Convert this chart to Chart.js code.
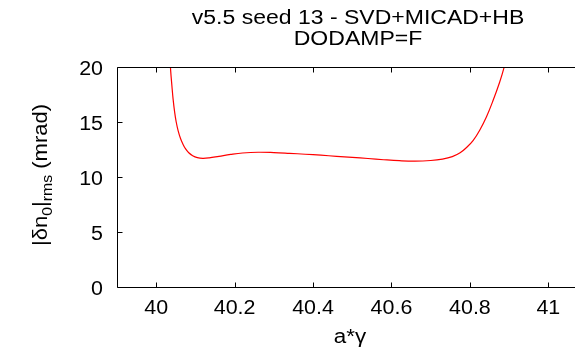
<!DOCTYPE html>
<html><head><meta charset="utf-8">
<script src="https://cdn.jsdelivr.net/npm/chart.js@4/dist/chart.umd.min.js"></script>
<style>html,body{margin:0;padding:0;background:#fff}#wrap{width:575px;height:351px;position:relative}</style>
</head><body><div id="wrap"><canvas id="c" width="575" height="351"></canvas></div>
<script>
const titleLines = ["v5.5 seed 13 - SVD+MICAD+HB", "DODAMP=F"];
const xAxisLabel = "a*\u03b3";
const yLabelParts = [["|\u03b4n", false], ["0", true], ["|", false], ["rms", true], [" (mrad)", false]];
const xTickValues = [40, 40.2, 40.4, 40.6, 40.8, 41];
const yTickValues = [0, 5, 10, 15, 20];
const aGamma = [40.030, 40.034, 40.037, 40.040, 40.043, 40.047, 40.051, 40.056, 40.062, 40.068, 40.075, 40.083, 40.093, 40.105, 40.119, 40.135, 40.160, 40.190, 40.220, 40.260, 40.300, 40.340, 40.380, 40.420, 40.460, 40.500, 40.540, 40.580, 40.620, 40.660, 40.700, 40.730, 40.755, 40.775, 40.792, 40.808, 40.825, 40.842, 40.859, 40.876, 40.887, 40.900];
const dn0rms = [25.0, 21.5, 19.6, 18.3, 17.1, 15.9, 15.0, 14.2, 13.5, 13.0, 12.55, 12.2, 11.93, 11.76, 11.7, 11.74, 11.88, 12.05, 12.18, 12.25, 12.22, 12.15, 12.07, 11.98, 11.88, 11.78, 11.68, 11.57, 11.48, 11.44, 11.5, 11.63, 11.85, 12.2, 12.7, 13.3, 14.25, 15.45, 16.95, 18.64, 19.95, 21.8];

const FONT = '"Liberation Sans", Arial, Helvetica, sans-serif';
function sText(ctx, txt, x, y, size, sx, align) {
  ctx.save();
  ctx.font = size + 'px ' + FONT;
  ctx.textAlign = align || 'center';
  ctx.textBaseline = 'alphabetic';
  ctx.translate(x, y);
  ctx.scale(sx, 1);
  ctx.fillText(txt, 0, 0);
  ctx.restore();
}

const framePlugin = {
  id: 'frame',
  afterDatasetsDraw(chart) {
    const ctx = chart.ctx;
    const a = chart.chartArea;
    const xs = chart.scales.x, ys = chart.scales.y;
    ctx.save();
    ctx.strokeStyle = '#000';
    ctx.lineWidth = 1;
    const L = Math.round(a.left) + 0.5, T = Math.round(a.top) + 0.5, B = Math.round(a.bottom) + 0.5, R = a.right + 10;
    ctx.beginPath();
    ctx.moveTo(R, T); ctx.lineTo(L, T); ctx.lineTo(L, B); ctx.lineTo(R, B);
    ctx.stroke();
    ctx.beginPath();
    xs.ticks.forEach(t => {
      const px = Math.round(xs.getPixelForValue(t.value)) + 0.5;
      ctx.moveTo(px, B); ctx.lineTo(px, B - 5);
      ctx.moveTo(px, T); ctx.lineTo(px, T + 5);
    });
    ys.ticks.forEach(t => {
      const py = Math.round(ys.getPixelForValue(t.value)) + 0.5;
      ctx.moveTo(L, py); ctx.lineTo(L + 5, py);
    });
    ctx.stroke();
    ctx.fillStyle = '#000';
    xs.ticks.forEach(t => {
      const px = xs.getPixelForValue(t.value);
      sText(ctx, String(t.value), px, a.bottom + 27, 19.5, 1.1, 'center');
    });
    ys.ticks.forEach(t => {
      const py = ys.getPixelForValue(t.value);
      sText(ctx, String(t.value), 103, py + 8, 19.5, 1.1, 'right');
    });
    sText(ctx, titleLines[0], 358, 24, 19.5, 1.18, 'center');
    sText(ctx, titleLines[1], 358, 45, 19.5, 1.18, 'center');
    sText(ctx, xAxisLabel, 350, 343, 19.5, 1.15, 'center');
    const big = 19.5, small = 14, sx = 1.13;
    let widths = yLabelParts.map(p => {
      ctx.font = (p[1] ? small : big) + 'px ' + FONT;
      return ctx.measureText(p[0]).width * sx;
    });
    const total = widths.reduce((s, w) => s + w, 0);
    ctx.translate(47, 175);
    ctx.rotate(-Math.PI / 2);
    let cx = -total / 2;
    yLabelParts.forEach((p, i) => {
      ctx.save();
      ctx.font = (p[1] ? small : big) + 'px ' + FONT;
      ctx.textAlign = 'left';
      ctx.translate(cx, p[1] ? 5 : 0);
      ctx.scale(sx, 1);
      ctx.fillText(p[0], 0, 0);
      ctx.restore();
      cx += widths[i];
    });
    ctx.restore();
  }
};

new Chart(document.getElementById('c'), {
  type: 'line',
  data: {
    datasets: [{
      data: aGamma.map((x, i) => ({ x: x, y: dn0rms[i] })),
      borderColor: '#ff0000',
      borderWidth: 1.2,
      pointRadius: 0,
      tension: 0.4,
      fill: false
    }]
  },
  options: {
    responsive: false,
    animation: false,
    devicePixelRatio: 1,
    layout: { padding: { left: 0, top: 67, right: 0, bottom: 0 } },
    plugins: { legend: { display: false }, tooltip: { enabled: false }, title: { display: false } },
    scales: {
      x: {
        type: 'linear', min: 39.9, max: 41.068,
        afterBuildTicks: s => { s.ticks = xTickValues.map(v => ({ value: v })); },
        afterFit: s => { s.height = 64; },
        ticks: { display: false },
        grid: { display: false }, border: { display: false }
      },
      y: {
        type: 'linear', min: 0, max: 20,
        afterBuildTicks: s => { s.ticks = yTickValues.map(v => ({ value: v })); },
        afterFit: s => { s.width = 117; },
        ticks: { display: false },
        grid: { display: false }, border: { display: false }
      }
    }
  },
  plugins: [framePlugin]
});
</script>
</body></html>
